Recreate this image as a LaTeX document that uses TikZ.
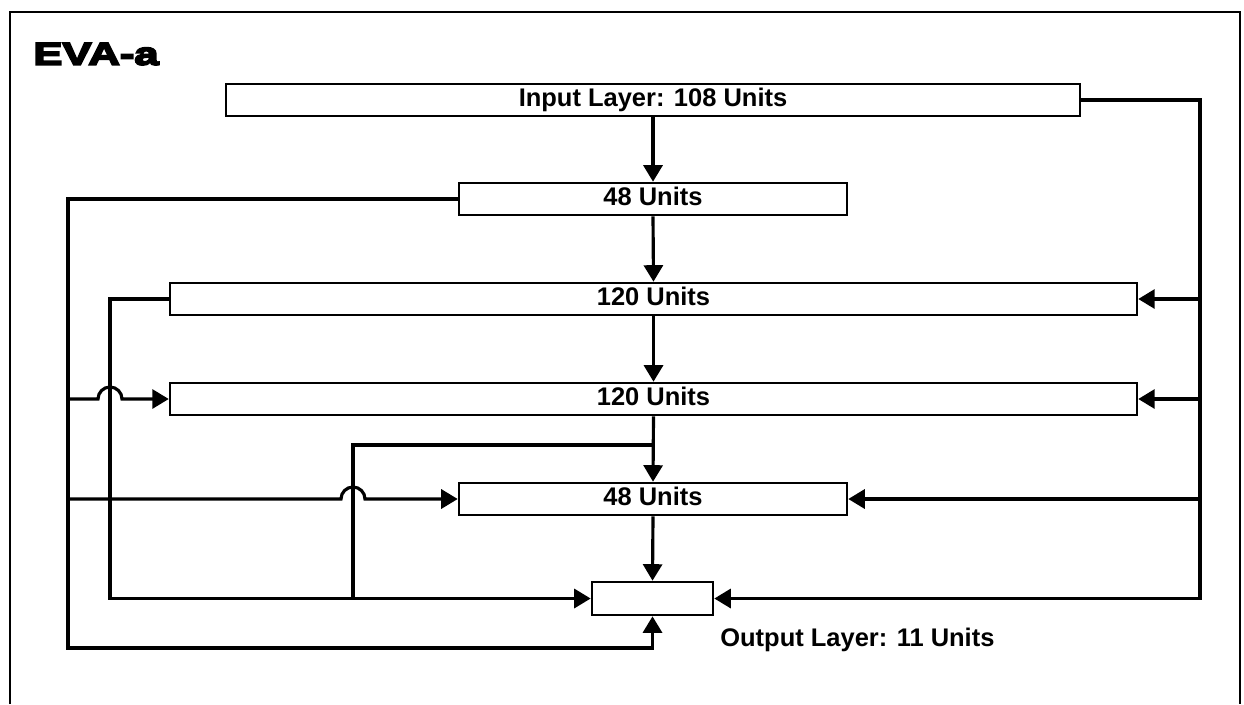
\documentclass[tikz,border=0pt]{standalone}
\usepackage{fontspec}
\setmainfont{Liberation Sans}
\newfontfamily\titlefont[FakeStretch=1.38,FakeBold=6]{Liberation Sans Bold}
\usetikzlibrary{arrows.meta}

\tikzset{
  layer/.style={draw, line width=1.5pt, minimum height=0.64cm, inner sep=0pt,
    text height=0.716em, text depth=0pt, font=\fontsize{14.5}{17}\selectfont\bfseries},
  link/.style={line width=1.8pt, -{Triangle[length=0.33cm,width=0.38cm]}},
  wire/.style={line width=1.8pt},
}

\begin{document}
\begin{tikzpicture}[x=0.02cm,y=-0.02cm]
    \useasboundingbox (0,0) rectangle (1244,704);
    \draw[line width=1pt] (10,704) -- (10,12) -- (1240,12) -- (1240,704);
    \node[anchor=west, inner sep=0pt] (title) at (33,54) {\fontsize{18}{20}\titlefont EVA-a};

    % layers
    \node[layer, minimum width=17.08cm] (inp) at (653,100) {Input Layer: 108 Units};
    \node[layer, minimum width=7.76cm] (hidA) at (653,199) {48 Units};
    \node[layer, minimum width=19.34cm] (hidB) at (653.5,299) {120 Units};
    \node[layer, minimum width=19.34cm] (hidC) at (653.5,399) {120 Units};
    \node[layer, minimum width=7.76cm] (hidD) at (653,499) {48 Units};
    \node[layer, minimum width=2.42cm, minimum height=0.66cm] (outp) at (652.5,598.5) {};
    \node[anchor=base west, inner sep=0pt, font=\fontsize{14.5}{17}\selectfont\bfseries]
        (outlbl) at (720,646) {Output Layer: 11 Units};

    % bends and hops
    \coordinate (rbus) at (1200,100);
    \coordinate (lbus) at (68,199);
    \coordinate (lbusEnd) at (68,648);
    \coordinate (mbus) at (110,299);
    \coordinate (tap) at (653,445);
    \coordinate (tapL) at (353,445);
    \coordinate (hop1) at (110,399);
    \coordinate (hop2) at (353,499);

    % straight down
    \draw[link] (inp.south) -- (hidA.north);
    \draw[link] (hidA.south) -- (hidB.north);
    \draw[link] (hidB.south) -- (hidC.north);
    \draw[link] (hidC.south) -- (hidD.north);
    \draw[link] (hidD.south) -- (outp.north);

    % right side
    \draw[link] (inp.east) -- (rbus) |- (outp.east);
    \draw[link] (rbus |- hidB) -- (hidB.east);
    \draw[link] (rbus |- hidC) -- (hidC.east);
    \draw[link] (rbus |- hidD) -- (hidD.east);

    % left side
    \draw[link] (hidA.west) -- (lbus) -- (lbusEnd) -| (outp.south);
    \draw[link] (hidB.west) -- (mbus) |- (outp.west);
    \draw[wire] (tap) -- (tapL) -- (tapL |- outp);
    \draw[link] (lbus |- hidC) -- ([xshift=-0.24cm]hop1)
        arc[start angle=180, end angle=0, radius=0.24cm] -- (hidC.west);
    \draw[link] (lbus |- hidD) -- ([xshift=-0.24cm]hop2)
        arc[start angle=180, end angle=0, radius=0.24cm] -- (hidD.west);
\end{tikzpicture}
\end{document}
